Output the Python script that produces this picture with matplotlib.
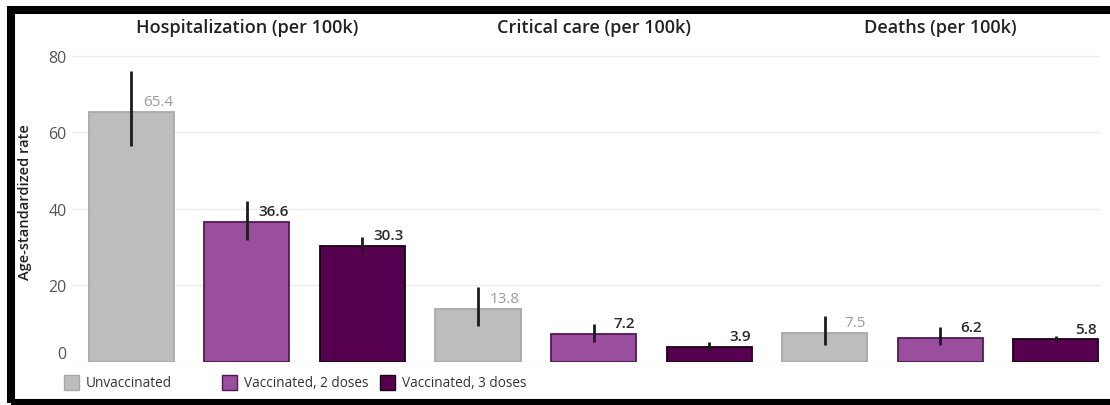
import matplotlib
matplotlib.use("Agg")
import matplotlib.pyplot as plt
from matplotlib.patches import Rectangle
from matplotlib.transforms import blended_transform_factory, ScaledTranslation

# Age-standardized rates per 100k with confidence bounds
measures = ["Hospitalization (per 100k)", "Critical care (per 100k)", "Deaths (per 100k)"]
groups = ["Unvaccinated", "Vaccinated, 2 doses", "Vaccinated, 3 doses"]

hosp_rate = [65.4, 36.6, 30.3]
hosp_low = [56.4, 31.9, 28.4]
hosp_high = [76.0, 42.0, 32.5]

crit_rate = [13.8, 7.2, 3.9]
crit_low = [9.4, 5.2, 3.0]
crit_high = [19.6, 9.9, 5.0]

death_rate = [7.5, 6.2, 5.8]
death_low = [4.4, 4.2, 5.0]
death_high = [12.0, 8.9, 6.8]

y_ticks = [0, 20, 40, 60, 80]

rates = [hosp_rate, crit_rate, death_rate]
lows = [hosp_low, crit_low, death_low]
highs = [hosp_high, crit_high, death_high]

fills = ["#BDBDBD", "#9A4E9E", "#57004F"]
edges = ["#A8A8A8", "#4E1A52", "#160014"]
label_colors = ["#9C9C9C", "#2A2A2A", "#2A2A2A"]
label_weights = ["normal", "semibold", "semibold"]

plt.rcParams["font.family"] = ["Open Sans", "DejaVu Sans"]

W, H = 1110, 406
fig = plt.figure(figsize=(W / 100, H / 100), dpi=100)
fig.patch.set_facecolor("white")

ax_left, ax_right = 72, 1100
ax_top, ax_bottom = 41.6, 362.5
ax = fig.add_axes([ax_left / W, (H - ax_bottom) / H,
                   (ax_right - ax_left) / W, (ax_bottom - ax_top) / H])

bar_w = 0.736
for m in range(len(measures)):
    for g in range(len(groups)):
        x = m * 3 + g
        v = rates[m][g]
        ax.bar(x, v, width=bar_w, color=fills[g], edgecolor=edges[g],
               linewidth=1.3, zorder=2)
        ax.vlines(x, lows[m][g], highs[m][g], color="#1C1C1C",
                  linewidth=2.0, zorder=3)
        ax.annotate(f"{v:.1f}", xy=(x + 0.36, v), xytext=(0, 6.5),
                    textcoords="offset pixels", ha="right", va="baseline",
                    fontsize=11, color=label_colors[g],
                    fontweight=label_weights[g], zorder=4)

ax.set_xlim(-0.515, 8.385)
ax.set_ylim(0, 84)
ax.set_yticks(y_ticks)
ax.set_yticklabels([str(t) for t in y_ticks])
ax.set_xticks([])
ax.tick_params(axis="y", length=0, pad=4, labelsize=11.5, labelcolor="#555555")
ax.yaxis.grid(True, color="#ECECEC", linewidth=1.0, zorder=0)
ax.set_axisbelow(True)
for s in ax.spines.values():
    s.set_visible(False)

# lift the zero label so it sits clear of the baseline
fig.canvas.draw()
for lbl in ax.get_yticklabels():
    if lbl.get_text() == "0":
        lbl.set_transform(lbl.get_transform() +
                          ScaledTranslation(0, 9 / 100, fig.dpi_scale_trans))

ax.set_ylabel("Age-standardized rate", fontsize=10.5, color="#222222",
              fontweight="semibold")
ax.yaxis.set_label_coords((32 - ax_left) / (ax_right - ax_left), 0.5)

# panel titles above each group
title_tr = blended_transform_factory(ax.transData, fig.transFigure)
for m, name in enumerate(measures):
    ax.text(m * 3 + 1, (H - 28) / H, name, transform=title_tr,
            ha="center", va="center", fontsize=13, color="#222222",
            fontweight="semibold")

# legend with fixed-width columns
col_x = [64, 222, 380]
sq = 15
leg_y = 383.5
for g, name in enumerate(groups):
    fig.patches.append(Rectangle((col_x[g] / W, (H - leg_y - sq / 2) / H),
                                 sq / W, sq / H, transform=fig.transFigure,
                                 facecolor=fills[g], edgecolor=edges[g],
                                 linewidth=1.0))
    fig.text((col_x[g] + sq + 7) / W, (H - leg_y) / H, name,
             ha="left", va="center", fontsize=9.8, color="#333333")

# frame
fig.patches.append(Rectangle((11 / W, 2 / H), (1130 - 11) / W, (395 - 2) / H,
                             transform=fig.transFigure, fill=False,
                             edgecolor="black", linewidth=5.8, clip_on=False))

fig.savefig("out.png", dpi=100)
